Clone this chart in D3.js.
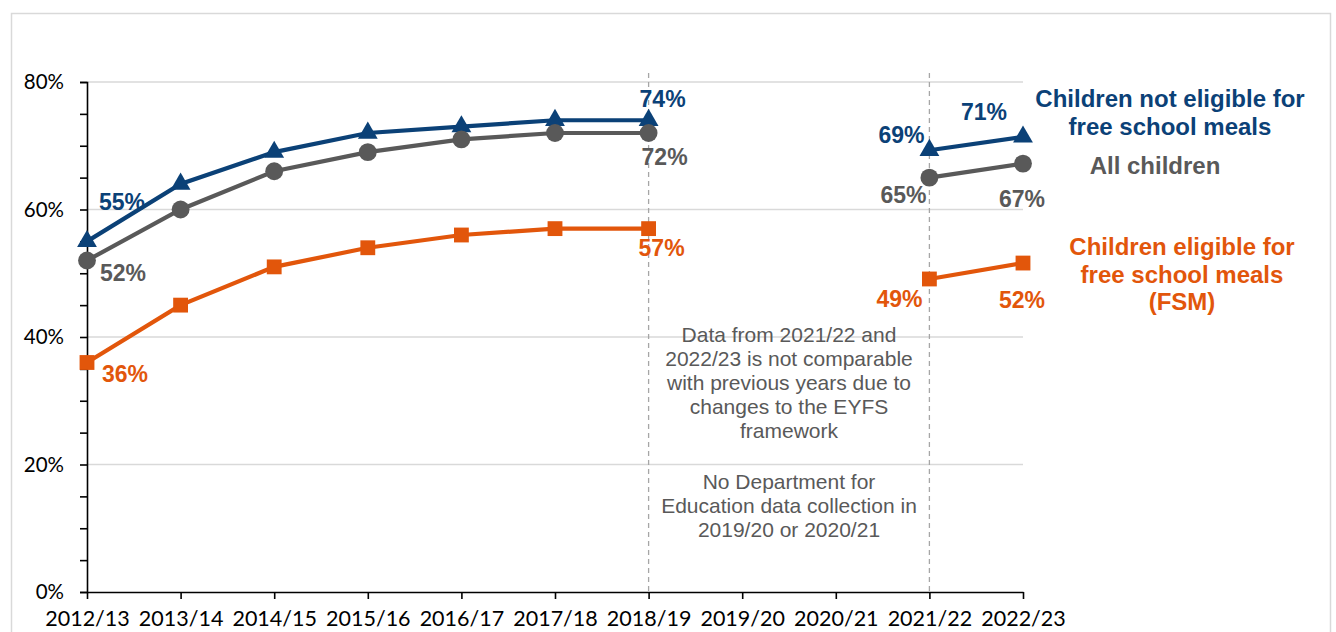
<!DOCTYPE html>
<html><head><meta charset="utf-8">
<script src="https://cdn.jsdelivr.net/npm/d3@7"></script>
<style>
body{margin:0;background:#fff;}
svg{display:block;}
</style></head>
<body>
<svg id="chart" width="1336" height="632"></svg>
<script>
const categories = ["2012/13","2013/14","2014/15","2015/16","2016/17","2017/18","2018/19","2019/20","2020/21","2021/22","2022/23"];
const notFsm = [55, 64, 69, 72, 73, 74, 74, null, null, 69.3, 71.4];
const allChildren = [52, 60, 66, 69, 71, 72, 72, null, null, 65, 67.2];
const fsm = [36, 45, 51, 54, 56, 57, 57, null, null, 49.1, 51.6];
const yTicks = [0, 20, 40, 60, 80];
const breakYears = ["2018/19", "2021/22"];
// labelled points: [series index, category index, text]
const pointLabels = [
  [0, 0, "55%"], [1, 0, "52%"], [2, 0, "36%"],
  [0, 6, "74%"], [1, 6, "72%"], [2, 6, "57%"],
  [0, 9, "69%"], [1, 9, "65%"], [2, 9, "49%"],
  [0, 10, "71%"], [1, 10, "67%"], [2, 10, "52%"]
];
const labelOffsets = [
  [35, -39], [36, 12], [38, 11],
  [14, -21], [16, 24], [13, 19],
  [-28, -15], [-26, 17], [-30, 20],
  [-39, -25], [-1, 35], [-1, 37]
];
const seriesNames = ["Children not eligible for free school meals", "All children", "Children eligible for free school meals (FSM)"];
const legendLines = [
  ["Children not eligible for", "free school meals"],
  ["All children"],
  ["Children eligible for", "free school meals", "(FSM)"]
];
const colors = ["#0b4177", "#595959", "#e2560b"];
const symbols = [d3.symbolTriangle, d3.symbolCircle, d3.symbolSquare];
const symbolSizes = [170, 250, 220];

const svg = d3.select("#chart");
// border
svg.append("rect").attr("x", 11.5).attr("y", 13.5).attr("width", 1319).attr("height", 640)
  .attr("fill", "none").attr("stroke", "#d9d9d9").attr("stroke-width", 1.5);

const x = d3.scalePoint().domain(categories).range([87, 1023]);
const y = d3.scaleLinear().domain([0, 80]).range([592, 82]);

// gridlines
svg.append("g").selectAll("line").data(yTicks.filter(d => d > 0)).join("line")
  .attr("x1", 87).attr("x2", 1023).attr("y1", d => y(d)).attr("y2", d => y(d))
  .attr("stroke", "#d9d9d9").attr("stroke-width", 1.5);

// break lines
svg.append("g").selectAll("line").data(breakYears).join("line")
  .attr("x1", d => x(d)).attr("x2", d => x(d)).attr("y1", 73).attr("y2", 592)
  .attr("stroke", "#a6a6a6").attr("stroke-width", 1.3).attr("stroke-dasharray", "5,4");

// y axis
const yAxis = d3.axisLeft(y).tickValues(d3.range(0, 81, 5)).tickSize(7).tickPadding(16)
  .tickFormat(d => yTicks.includes(d) ? d + "%" : "");
const gy = svg.append("g").attr("transform", "translate(87,0)").call(yAxis);
gy.select(".domain").attr("stroke", "#000").attr("stroke-width", 1.6);
gy.selectAll(".tick line").attr("stroke", "#000").attr("stroke-width", 1.6);
gy.selectAll(".tick text").attr("font-family", "Lato, 'Open Sans', sans-serif").attr("font-size", 20.5).attr("fill", "#000");

// x axis
const xAxis = d3.axisBottom(x).tickSize(7).tickPadding(12).tickSizeOuter(0);
const gx = svg.append("g").attr("transform", "translate(0,592)").call(xAxis);
gx.select(".domain").attr("stroke", "#000").attr("stroke-width", 1.6);
gx.selectAll(".tick line").attr("stroke", "#000").attr("stroke-width", 1.6);
gx.selectAll(".tick text").attr("font-family", "Lato, 'Open Sans', sans-serif").attr("font-size", 21.5).attr("fill", "#000");

// annotation
const note1 = ["Data from 2021/22 and", "2022/23 is not comparable", "with previous years due to", "changes to the EYFS", "framework"];
const note2 = ["No Department for", "Education data collection in", "2019/20 or 2020/21"];
const noteG = svg.append("g").attr("font-family", "'Liberation Sans', Arial, sans-serif").attr("font-size", 21)
  .attr("fill", "#595959").attr("text-anchor", "middle");
noteG.selectAll("text.n1").data(note1).join("text").attr("class", "n1")
  .attr("x", 789).attr("y", (d, i) => 335 + i * 24).attr("dy", "0.35em").text(d => d);
noteG.selectAll("text.n2").data(note2).join("text").attr("class", "n2")
  .attr("x", 789).attr("y", (d, i) => 482 + i * 24).attr("dy", "0.35em").text(d => d);

// series
const series = [notFsm, allChildren, fsm];
const line = d3.line().defined(d => d[1] != null).x(d => x(d[0])).y(d => y(d[1]));
series.forEach((vals, si) => {
  const pts = categories.map((c, i) => [c, vals[i]]);
  const g = svg.append("g").attr("class", "series").attr("data-name", seriesNames[si]);
  g.append("path").datum(pts).attr("d", line).attr("fill", "none")
    .attr("stroke", colors[si]).attr("stroke-width", 4.2);
  g.selectAll("path.mk").data(pts.filter(d => d[1] != null)).join("path").attr("class", "mk")
    .attr("transform", d => `translate(${x(d[0])},${y(d[1])})`)
    .attr("d", d3.symbol().type(symbols[si]).size(symbolSizes[si]))
    .attr("fill", colors[si]);
});

// data labels
svg.append("g").attr("font-family", "'Liberation Sans', Arial, sans-serif").attr("font-weight", "bold")
  .attr("font-size", 23).attr("text-anchor", "middle")
  .selectAll("text").data(pointLabels).join("text")
  .attr("x", (d, i) => x(categories[d[1]]) + labelOffsets[i][0])
  .attr("y", (d, i) => y(series[d[0]][d[1]]) + labelOffsets[i][1])
  .attr("dy", "0.35em").attr("fill", d => colors[d[0]]).text(d => d[2]);

// legend labels
const legendPos = [[1170, 99], [1155, 166], [1182, 247]];
const legG = svg.append("g").attr("font-family", "'Liberation Sans', Arial, sans-serif").attr("font-weight", "bold")
  .attr("font-size", 24).attr("text-anchor", "middle");
legendLines.forEach((lines, si) => {
  legG.selectAll(null).data(lines).join("text")
    .attr("x", legendPos[si][0]).attr("y", (d, i) => legendPos[si][1] + i * 27.5)
    .attr("dy", "0.35em").attr("fill", colors[si]).text(d => d);
});
</script>
</body></html>
